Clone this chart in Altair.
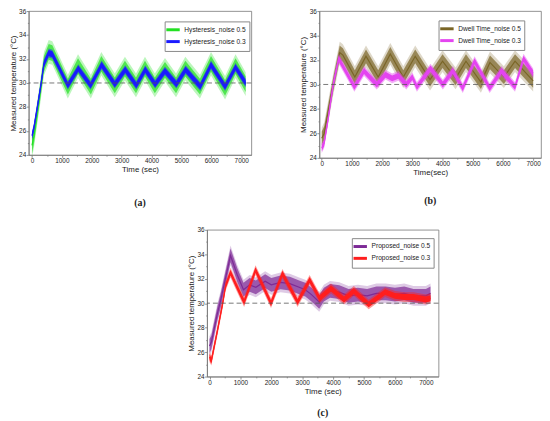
import altair as alt
import pandas as pd

# ---------------- data ----------------
hyst05_t = [0, 60, 180, 290, 400, 560, 680, 1200, 1540, 1970, 2320, 2770, 3110, 3480, 3780, 4110, 4450, 4820, 5130, 5620, 5990, 6460, 6810, 7150]
hyst05_v = [24.8, 25.5, 27.6, 29.5, 31.6, 32.6, 32.5, 29.7, 31.4, 29.7, 31.6, 29.8, 31.2, 29.8, 31.2, 29.8, 31.1, 29.8, 31.2, 29.7, 31.6, 29.6, 31.4, 29.9]
hyst03_t = [0, 60, 180, 290, 400, 560, 680, 1200, 1550, 1960, 2330, 2770, 3120, 3490, 3790, 4120, 4450, 4830, 5140, 5630, 5990, 6460, 6810, 7150]
hyst03_v = [25.6, 26.2, 28.0, 29.7, 31.6, 32.5, 32.4, 29.8, 31.2, 29.8, 31.5, 29.9, 31.1, 29.8, 31.1, 29.9, 31.0, 29.9, 31.1, 29.7, 31.5, 29.7, 31.3, 30.0]

dwell05_t = [0, 80, 200, 380, 595, 700, 1095, 1465, 1870, 2270, 2700, 3095, 3585, 4000, 4430, 4775, 5270, 5570, 6030, 6400, 7000]
dwell05_v = [25.6, 26.0, 27.6, 30.0, 32.6, 32.4, 30.6, 32.3, 30.6, 32.5, 30.6, 32.3, 30.4, 31.9, 30.5, 31.9, 30.2, 31.8, 30.6, 31.9, 30.3]
dwell03_t = [0, 80, 200, 380, 560, 1080, 1400, 1820, 2110, 2330, 2540, 2800, 3000, 3150, 3600, 4010, 4340, 4670, 5060, 5560, 5950, 6400, 6680, 7000]
dwell03_v = [24.8, 25.2, 27.0, 30.0, 32.1, 29.8, 31.1, 30.0, 30.8, 30.5, 30.7, 30.0, 30.6, 29.8, 31.3, 30.0, 31.1, 29.7, 31.9, 29.7, 31.1, 29.8, 32.1, 30.9]

prop05_t = [0, 60, 250, 360, 680, 900, 1100, 1300, 1500, 1800, 2000, 2300, 2600, 2900, 3100, 3300, 3550, 3700, 3900, 4200, 4500, 4800, 5100, 5400, 5700, 6000, 6300, 6600, 7000, 7150]
prop05_v = [26.5, 26.8, 29.1, 30.2, 33.9, 32.3, 31.1, 31.5, 31.3, 31.8, 31.5, 31.7, 31.6, 31.3, 31.1, 30.7, 30.1, 30.7, 31.0, 30.9, 30.6, 30.7, 30.6, 30.8, 30.8, 30.7, 30.8, 30.6, 30.6, 30.8]
prop03_t = [0, 60, 260, 420, 520, 680, 840, 1120, 1490, 1990, 2360, 2850, 3240, 3560, 3930, 4350, 4670, 5150, 5680, 6000, 6300, 6600, 7000, 7150]
prop03_v = [25.6, 25.3, 27.8, 29.9, 31.4, 32.5, 31.6, 30.1, 32.7, 30.0, 32.4, 30.1, 31.9, 30.4, 31.2, 30.3, 31.0, 29.9, 30.9, 30.6, 30.5, 30.5, 30.3, 30.4]

setpoint = [30]
x_ticks = list(range(0, 7001, 500))
y_ticks = list(range(24, 37))

names_a = ["Hysteresis_noise 0.5", "Hysteresis_noise 0.3"]
names_b = ["Dwell Time_noise 0.5", "Dwell Time_noise 0.3"]
names_c = ["Proposed_noise 0.5", "Proposed_noise 0.3"]
colors_a = ["#22e022", "#1a1aff"]
colors_b = ["#7a6526", "#e444f0"]
colors_c = ["#7d2a96", "#ff1e1e"]

FONT = "Liberation Sans"
AX = "#777777"


def panel(t05, v05, t03, v03, names, colors, xdom, w, h, xtitle, caption,
          cap_off, legxy, bands):
    d05 = pd.DataFrame({"t": t05, "v": v05, "s": names[0]})
    d03 = pd.DataFrame({"t": t03, "v": v03, "s": names[1]})
    xs = alt.Scale(domain=xdom, nice=False, zero=False)
    ys = alt.Scale(domain=[24, 36], nice=False, zero=False)
    cs = alt.Scale(domain=names, range=colors)

    xsize = {"condition": {"test": "datum.value % 1000 === 0", "value": 2.5}, "value": 1.3}
    ysize = {"condition": {"test": "datum.value % 2 === 0", "value": 2.5}, "value": 1.3}

    ax_b = alt.Axis(orient="bottom", values=x_ticks, format="d", labelFlush=False,
                    labelExpr="datum.value % 1000 === 0 ? datum.label : ''",
                    tickSize=xsize, title=xtitle, minExtent=0)
    ax_l = alt.Axis(orient="left", values=y_ticks, format="d", labelFlush=False,
                    labelExpr="datum.value % 2 === 0 ? datum.label : ''",
                    tickSize=ysize, title="Measured temperature (°C)", minExtent=0)
    X = alt.X("t:Q", scale=xs, axis=ax_b)
    Y = alt.Y("v:Q", scale=ys, axis=ax_l)

    def band(df, color, half, op):
        return alt.Chart(df).mark_area(color=color, opacity=op, yOffset=-half,
                                       y2Offset=half).encode(x=X, y=Y, y2=alt.Y2("v"))

    legend = alt.Legend(title=None, orient="none", legendX=legxy[0], legendY=legxy[1],
                        strokeColor="#888888", fillColor="white", padding=3,
                        labelFontSize=6.7, labelFont=FONT, labelColor="#222222",
                        symbolType="M-1.7,0H1.7", symbolStrokeWidth=3, symbolSize=64,
                        symbolOpacity=1, rowPadding=-1, labelOffset=6)

    def line(df):
        return alt.Chart(df).mark_line(strokeWidth=1.2).encode(
            x=X, y=Y, color=alt.Color("s:N", scale=cs, legend=legend))

    b5o, b5i, b3o, b3i = bands
    ref = alt.Chart(pd.DataFrame({"y": setpoint})).mark_rule(
        strokeDash=[5, 3], color="#555555", strokeWidth=0.8).encode(
        y=alt.Y("y:Q", scale=ys, axis=ax_l))

    layers = [
        band(d05, colors[0], b5o[0], b5o[1]),
        band(d05, colors[0], b5i[0], b5i[1]),
        line(d05),
        band(d03, colors[1], b3o[0], b3o[1]),
        band(d03, colors[1], b3i[0], b3i[1]),
        line(d03),
        ref,
    ]
    return alt.layer(*layers).properties(
        width=w, height=h,
        title=alt.TitleParams(caption, orient="bottom", offset=cap_off,
                              font="Liberation Serif", fontSize=10, fontWeight="bold",
                              color="#222222"),
    )


pa = panel(hyst05_t, hyst05_v, hyst03_t, hyst03_v, names_a, colors_a, [-110, 7340],
           226, 146, "Time (sec)", "(a)", 25, (138, 10.5),
           ((12, 0.3), (8, 0.7), (4.5, 0.5), (3, 1.0)))
pb = panel(dwell05_t, dwell05_v, dwell03_t, dwell03_v, names_b, colors_b, [-80, 7260],
           225, 149, "Time(sec)", "(b)", 20, (121, 9.5),
           ((11, 0.25), (7, 0.7), (5, 0.45), (3, 1.0)))
pc = panel(prop05_t, prop05_v, prop03_t, prop03_v, names_c, colors_c, [-80, 7410],
           235, 149, "Time (sec)", "(c)", 13, (147, 8.5),
           ((10, 0.25), (7, 0.7), (5, 0.45), (3, 1.0)))

spacer = alt.Chart(pd.DataFrame({"t": [0]})).mark_point(opacity=0).encode(
    x=alt.X("t:Q", axis=None), y=alt.Y("t:Q", axis=None)
).properties(width=159, height=149, view=alt.ViewBackground(stroke="transparent"))

top = alt.hconcat(pa, pb, spacing=47).resolve_scale(color="independent")
bottom = alt.hconcat(spacer, pc, spacing=0).resolve_scale(color="independent")

chart = alt.vconcat(top, bottom, spacing=17).resolve_scale(color="independent").properties(
    padding={"left": 0, "top": -4, "right": 0, "bottom": 0},
    background="white",
).configure_view(stroke=AX, strokeWidth=0.8).configure_axis(
    labelFont=FONT, labelFontSize=6.5, labelColor="#222222",
    titleFont=FONT, titleFontSize=8, titleFontWeight="normal", titleColor="#222222",
    domainColor=AX, domainWidth=0.8, tickColor=AX, tickWidth=0.8,
    labelPadding=0.5, titlePadding=1.5, grid=False,
)

chart.save("out.html", embed_options={"renderer": "svg", "actions": False})
